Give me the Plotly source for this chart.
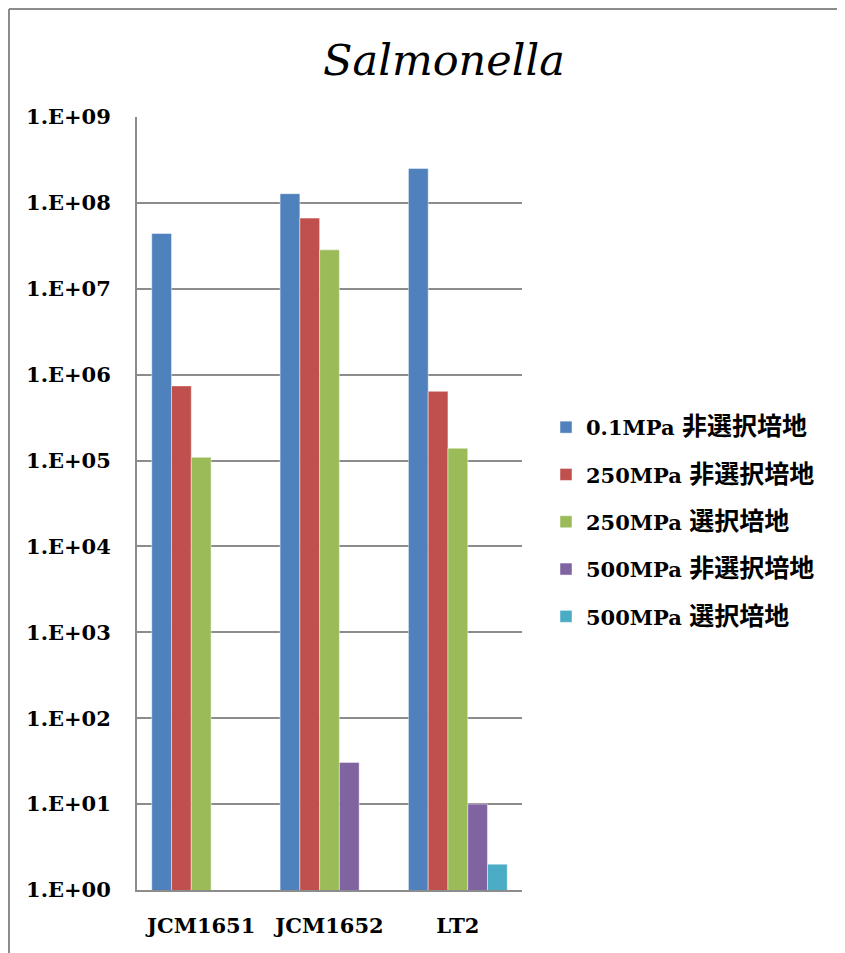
import plotly.graph_objects as go

categories = ["JCM1651", "JCM1652", "LT2"]
series_pressure = ["0.1MPa", "250MPa", "250MPa", "500MPa", "500MPa"]
series_medium = ["非選択培地", "非選択培地", "選択培地", "非選択培地", "選択培地"]
s_01_non = [4.4e7, 1.28e8, 2.52e8]
s_250_non = [7.4e5, 6.65e7, 6.4e5]
s_250_sel = [1.09e5, 2.84e7, 1.39e5]
s_500_non = [None, 30.6, 10.0]
s_500_sel = [None, None, 2.0]
series_values = [s_01_non, s_250_non, s_250_sel, s_500_non, s_500_sel]
colors = ["#4F81BD", "#C0504D", "#9BBB59", "#8064A2", "#4BACC6"]
tick_vals = [1e0, 1e1, 1e2, 1e3, 1e4, 1e5, 1e6, 1e7, 1e8, 1e9]
tick_text = ["1.E+00", "1.E+01", "1.E+02", "1.E+03", "1.E+04",
             "1.E+05", "1.E+06", "1.E+07", "1.E+08", "1.E+09"]

FONT = "DejaVu Serif, 'Noto Sans CJK JP', serif"

fig = go.Figure()
for i, (p, m, vals, c) in enumerate(zip(series_pressure, series_medium,
                                         series_values, colors)):
    label = f'{p} <span style="font-size:25px">{m}</span>'
    fig.add_trace(go.Bar(
        x=categories, y=vals, name=label, legendgroup=f"g{i}",
        marker=dict(color=c, line=dict(color="rgba(255,255,255,0.45)", width=1)),
    ))

# page offset (body margin) is 8px
OFF = 8
W, H = 845 - OFF, 953 - OFF
PL, PR, PT, PB = 137, 522, 117, 890  # plot area in page pixels
L, T = PL - OFF, PT - OFF
R = W - (PR - OFF)
B = H - (PB - OFF)
pw, ph = W - L - R, H - T - B

def px_x(p):  # page px -> paper x
    return (p - OFF - L) / pw

def px_y(p):  # page px -> paper y
    return (H - B - (p - OFF)) / ph

fig.update_layout(
    width=W, height=H,
    margin=dict(l=L, r=R, t=T, b=B),
    paper_bgcolor="white", plot_bgcolor="white",
    barmode="group", bargap=0.23, bargroupgap=0,
    title=dict(text="<i>Salmonella</i>", x=(444 - OFF) / W, xanchor="center",
               y=1 - (60 - OFF) / H, yanchor="middle",
               font=dict(family=FONT, size=43, color="black")),
    legend=dict(x=px_x(546), xanchor="left", y=px_y(522), yanchor="middle",
                font=dict(family=FONT, size=21, color="black", weight="bold"),
                tracegroupgap=17, bgcolor="rgba(0,0,0,0)"),
    xaxis=dict(showgrid=False, showline=True, linecolor="#8c8c8c", linewidth=2,
               ticks="", ticklabelstandoff=16,
               tickfont=dict(family=FONT, size=21, color="black", weight="bold")),
    yaxis=dict(type="log", range=[0, 9], tickvals=tick_vals, ticktext=tick_text,
               showgrid=True, gridcolor="#8c8c8c", gridwidth=2,
               showline=True, linecolor="#8c8c8c", linewidth=2,
               ticks="", ticklabelstandoff=20, zeroline=False,
               tickfont=dict(family=FONT, size=21, color="black", weight="bold")),
    shapes=[
        dict(type="line", xref="paper", yref="paper",
             x0=px_x(OFF + 1), x1=px_x(OFF + 1), y0=px_y(960), y1=px_y(OFF + 1),
             line=dict(color="#8c8c8c", width=2), layer="below"),
        dict(type="line", xref="paper", yref="paper",
             x0=px_x(OFF + 1), x1=px_x(860), y0=px_y(OFF + 1), y1=px_y(OFF + 1),
             line=dict(color="#8c8c8c", width=2), layer="below"),
    ],
)

fig.write_html("out.html")
